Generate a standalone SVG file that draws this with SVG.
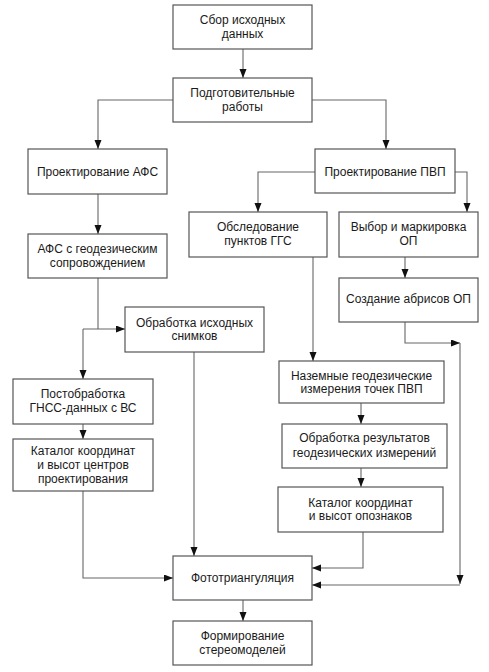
<svg xmlns="http://www.w3.org/2000/svg" width="489" height="672" viewBox="0 0 489 672">
<style>
.box{fill:#fff;stroke:#555;stroke-width:1.2}
.t{font-family:"Liberation Sans",Arial,sans-serif;font-size:12px;fill:#1a1a1a;text-anchor:middle}
.c{fill:none;stroke:#666;stroke-width:1.1}
</style>
<defs>
<marker id="ah" markerUnits="userSpaceOnUse" markerWidth="10" markerHeight="8" refX="9" refY="3.5" orient="auto">
<path d="M0,0 L9,3.5 L0,7 Z" fill="#111"/>
</marker>
</defs>
<rect width="489" height="672" fill="#fff"/>
<g id="connectors">
<path class="c" d="M243,49 V78" marker-end="url(#ah)"/>
<path class="c" d="M173,100 H98 V149" marker-end="url(#ah)"/>
<path class="c" d="M312,100 H386 V149" marker-end="url(#ah)"/>
<path class="c" d="M98,194 V234" marker-end="url(#ah)"/>
<path class="c" d="M315,172 H258 V212" marker-end="url(#ah)"/>
<path class="c" d="M455,172 H467 V212" marker-end="url(#ah)"/>
<path class="c" d="M405,257 V278" marker-end="url(#ah)"/>
<path class="c" d="M98,278 V329"/>
<path class="c" d="M83,329 H125" marker-end="url(#ah)"/>
<path class="c" d="M83,329 V379" marker-end="url(#ah)"/>
<path class="c" d="M83,424 V439" marker-end="url(#ah)"/>
<path class="c" d="M313,257 V361" marker-end="url(#ah)"/>
<path class="c" d="M405,322 V343 H460" marker-end="url(#ah)"/>
<path class="c" d="M460,343 V584" marker-end="url(#ah)"/>
<path class="c" d="M460,585 H312" marker-end="url(#ah)"/>
<path class="c" d="M361,403 V424" marker-end="url(#ah)"/>
<path class="c" d="M361,468 V487" marker-end="url(#ah)"/>
<path class="c" d="M363,532 V568 H312" marker-end="url(#ah)"/>
<path class="c" d="M194,352 V556" marker-end="url(#ah)"/>
<path class="c" d="M83,491 V578 H173" marker-end="url(#ah)"/>
<path class="c" d="M243,600 V621" marker-end="url(#ah)"/>
</g>
<g id="n1"><rect class="box" x="173" y="5" width="139" height="44"/><text class="t" x="242.5" y="24">Сбор исходных</text><text class="t" x="242.5" y="38">данных</text></g>
<g id="n2"><rect class="box" x="173" y="78" width="139" height="44"/><text class="t" x="242.5" y="97">Подготовительные</text><text class="t" x="242.5" y="111">работы</text></g>
<g id="n3"><rect class="box" x="28" y="149" width="139" height="45"/><text class="t" x="97.5" y="176">Проектирование АФС</text></g>
<g id="n4"><rect class="box" x="28" y="234" width="139" height="44"/><text class="t" x="97.5" y="253">АФС с геодезическим</text><text class="t" x="97.5" y="267">сопровождением</text></g>
<g id="n5"><rect class="box" x="315" y="149" width="140" height="44"/><text class="t" x="385" y="176">Проектирование ПВП</text></g>
<g id="n6"><rect class="box" x="189" y="212" width="138" height="45"/><text class="t" x="258" y="231">Обследование</text><text class="t" x="258" y="245">пунктов ГГС</text></g>
<g id="n7"><rect class="box" x="339" y="212" width="139" height="45"/><text class="t" x="408.5" y="231">Выбор и маркировка</text><text class="t" x="408.5" y="245">ОП</text></g>
<g id="n8"><rect class="box" x="339" y="278" width="139" height="44"/><text class="t" x="408.5" y="303">Создание абрисов ОП</text></g>
<g id="n9"><rect class="box" x="125" y="307" width="139" height="45"/><text class="t" x="194.5" y="327">Обработка исходных</text><text class="t" x="194.5" y="340">снимков</text></g>
<g id="n10"><rect class="box" x="13" y="379" width="140" height="45"/><text class="t" x="83" y="398">Постобработка</text><text class="t" x="83" y="412">ГНСС-данных с ВС</text></g>
<g id="n11"><rect class="box" x="13" y="439" width="140" height="52"/><text class="t" x="83" y="455">Каталог координат</text><text class="t" x="83" y="469">и высот центров</text><text class="t" x="83" y="483">проектирования</text></g>
<g id="n12"><rect class="box" x="279" y="361" width="165" height="42"/><text class="t" x="361.5" y="380">Наземные геодезические</text><text class="t" x="361.5" y="393">измерения точек ПВП</text></g>
<g id="n13"><rect class="box" x="282" y="424" width="165" height="44"/><text class="t" x="364.5" y="442">Обработка результатов</text><text class="t" x="364.5" y="457">геодезических измерений</text></g>
<g id="n14"><rect class="box" x="278" y="487" width="165" height="45"/><text class="t" x="360.5" y="507">Каталог координат</text><text class="t" x="360.5" y="520">и высот опознаков</text></g>
<g id="n15"><rect class="box" x="173" y="556" width="139" height="44"/><text class="t" x="242.5" y="582">Фототриангуляция</text></g>
<g id="n16"><rect class="box" x="173" y="621" width="139" height="44"/><text class="t" x="242.5" y="640">Формирование</text><text class="t" x="242.5" y="654">стереомоделей</text></g>
</svg>
